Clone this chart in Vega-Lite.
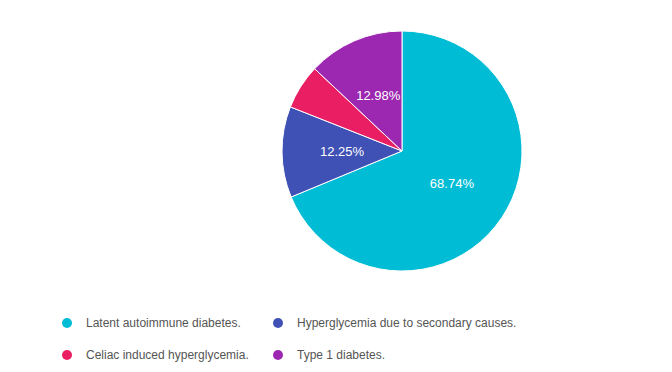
{
  "$schema": "https://vega.github.io/schema/vega-lite/v6.json",
  "autosize": "none",
  "width": 240,
  "height": 240,
  "padding": {"left": 282, "top": 31, "right": 150, "bottom": 101},
  "background": "white",
  "data": {"values": [
    {"category": "Latent autoimmune diabetes.", "share": 0.6874, "order": 1},
    {"category": "Hyperglycemia due to secondary causes.", "share": 0.1225, "order": 2},
    {"category": "Celiac induced hyperglycemia.", "share": 0.0603, "order": 3},
    {"category": "Type 1 diabetes.", "share": 0.1298, "order": 4}
  ]},
  "encoding": {
    "theta": {"field": "share", "type": "quantitative", "stack": true},
    "order": {"field": "order", "type": "quantitative"},
    "color": {
      "field": "category", "type": "nominal",
      "scale": {
        "domain": ["Latent autoimmune diabetes.", "Hyperglycemia due to secondary causes.", "Celiac induced hyperglycemia.", "Type 1 diabetes."],
        "range": ["#00BCD4", "#3F51B5", "#E91E63", "#9C27B0"]
      },
      "legend": {
        "title": null,
        "orient": "none",
        "direction": "horizontal",
        "columns": 2,
        "gridAlign": "none",
        "legendX": -221,
        "legendY": 286,
        "padding": 0,
        "columnPadding": 23,
        "rowPadding": 20,
        "symbolType": "circle",
        "symbolSize": 100,
        "symbolStrokeWidth": 0,
        "symbolOpacity": 1,
        "labelOffset": 13,
        "labelFont": "Liberation Sans",
        "labelFontSize": 12,
        "labelColor": "#555555",
        "labelLimit": 400
      }
    }
  },
  "layer": [
    {"mark": {"type": "arc", "stroke": "white", "strokeWidth": 1}},
    {
      "mark": {"type": "text", "radius": 60, "font": "Liberation Sans", "fontSize": 13, "fill": "white", "align": "center", "baseline": "middle"},
      "encoding": {
        "text": {"condition": {"test": "datum.share < 0.1", "value": ""}, "field": "share", "type": "quantitative", "format": ".2%"},
        "color": {"value": "white"}
      }
    }
  ]
}
